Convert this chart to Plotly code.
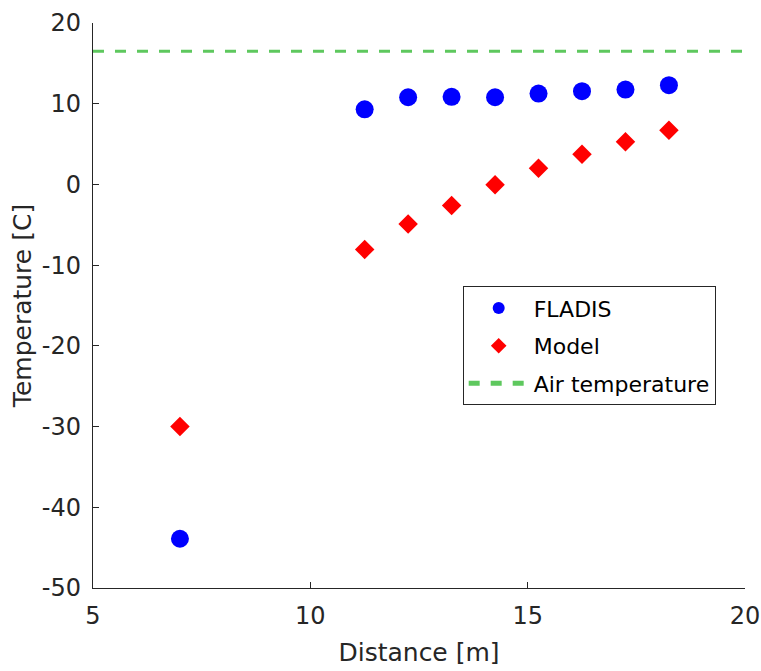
import plotly.graph_objects as go

distance = [7, 11.25, 12.25, 13.25, 14.25, 15.25, 16.25, 17.25, 18.25]
fladis = [-43.9, 9.3, 10.8, 10.85, 10.8, 11.25, 11.55, 11.75, 12.3]
model = [-30.0, -8.05, -4.9, -2.6, -0.05, 2.0, 3.75, 5.3, 6.7]
air_x = [5, 20]
air_temp = [16.5, 16.5]
x_ticks = [5, 10, 15, 20]
y_ticks = [-50, -40, -30, -20, -10, 0, 10, 20]

FONT = "DejaVu Sans, Liberation Sans, Arial, sans-serif"
AX = "#262626"

fig = go.Figure()
fig.add_trace(go.Scatter(x=distance, y=fladis, mode="markers", name="FLADIS",
                         legendgroup="a",
                         marker=dict(symbol="circle", size=18, color="#0000ff")))
fig.add_trace(go.Scatter(x=distance, y=model, mode="markers", name="Model",
                         legendgroup="b",
                         marker=dict(symbol="diamond", size=15, color="#ff0000")))
fig.add_trace(go.Scatter(x=air_x, y=air_temp, mode="lines", name="Air temperature",
                         legendgroup="c",
                         line=dict(color="#5ec85e", width=3, dash="11px,11px")))

fig.update_layout(
    width=761, height=671,
    margin=dict(l=93, r=16, t=23, b=83),
    paper_bgcolor="white", plot_bgcolor="white",
    font=dict(family=FONT, size=24, color=AX),
    showlegend=True,
    legend=dict(x=0.567, y=0.534, xanchor="left", yanchor="top",
                bordercolor=AX, borderwidth=1, bgcolor="white",
                font=dict(family=FONT, size=22, color="black"),
                itemsizing="constant", itemwidth=60, tracegroupgap=6),
    xaxis=dict(range=[5, 20], tickvals=x_ticks, ticktext=[str(v) for v in x_ticks],
               ticks="inside", ticklen=6, tickcolor=AX, showline=True, linecolor=AX,
               linewidth=1.3, showgrid=False, zeroline=False, automargin=False,
               ticklabelstandoff=6,
               title=dict(text="Distance [m]", standoff=14, font=dict(size=25)),
               tickfont=dict(size=24), fixedrange=True),
    yaxis=dict(range=[-50, 20], tickvals=y_ticks, ticktext=[str(v) for v in y_ticks],
               ticks="inside", ticklen=6, tickcolor=AX, showline=True, linecolor=AX,
               linewidth=1.3, showgrid=False, zeroline=False, automargin=False,
               ticklabelstandoff=6,
               title=dict(text="Temperature [C]", standoff=3, font=dict(size=25)),
               tickfont=dict(size=24), fixedrange=True),
)

fig.write_html("out.html")
